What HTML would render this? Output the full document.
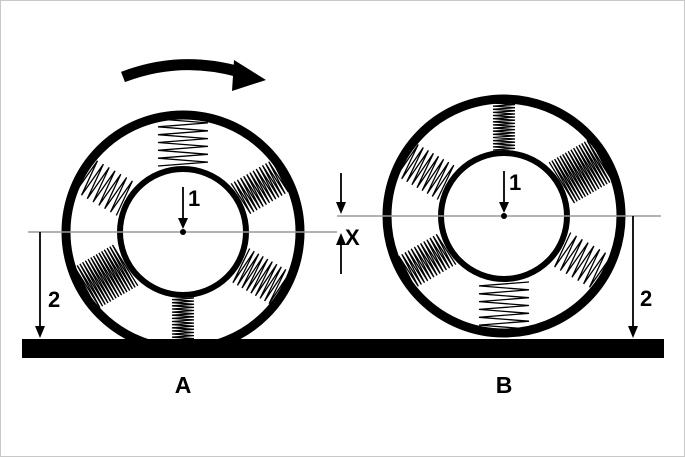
<!DOCTYPE html>
<html><head><meta charset="utf-8"><style>
html,body{margin:0;padding:0;background:#fff}
svg{display:block}
text{font-family:"Liberation Sans",Arial,sans-serif;font-weight:bold;fill:#000}
</style></head><body>
<svg id="s" width="685" height="457" viewBox="0 0 685 457" xmlns="http://www.w3.org/2000/svg">
<rect x="0.5" y="0.5" width="684" height="456" fill="#fff" stroke="#c8c8c8"/>
<defs>
<clipPath id="cA"><rect x="0" y="0" width="685" height="339"/></clipPath>
</defs>
<g id="springs"></g>
<g clip-path="url(#cA)">
<circle cx="183" cy="232" r="117" fill="none" stroke="#000" stroke-width="9"/>
</g>
<circle cx="183" cy="232" r="63" fill="none" stroke="#000" stroke-width="6"/>
<circle cx="504" cy="216" r="117" fill="none" stroke="#000" stroke-width="9"/>
<circle cx="504" cy="216" r="63" fill="none" stroke="#000" stroke-width="6"/>
<rect x="22" y="339" width="642" height="19" fill="#000"/>
<line x1="28" y1="232" x2="337" y2="232" stroke="#999" stroke-width="1.5"/>
<line x1="337" y1="216" x2="661" y2="216" stroke="#999" stroke-width="1.5"/>
<circle cx="183" cy="232" r="3" fill="#000"/>
<circle cx="504" cy="216" r="3" fill="#000"/>
<g stroke="#000" stroke-width="1.8" fill="none">
<line x1="183" y1="187" x2="183" y2="220"/>
<line x1="504" y1="171" x2="504" y2="204"/>
<line x1="40" y1="232" x2="40" y2="328"/>
<line x1="633" y1="216" x2="633" y2="328"/>
<line x1="341" y1="173" x2="341" y2="204"/>
<line x1="341" y1="274" x2="341" y2="243"/>
</g>
<g fill="#000">
<polygon points="178,218 188,218 183,229"/>
<polygon points="499,202 509,202 504,213"/>
<polygon points="35,326 45,326 40,338"/>
<polygon points="628,326 638,326 633,338"/>
<polygon points="336,202 346,202 341,214"/>
<polygon points="336,245 346,245 341,233"/>
</g>
<text x="188" y="206" font-size="22">1</text>
<text x="509" y="190" font-size="22">1</text>
<text x="48" y="307" font-size="22">2</text>
<text x="640" y="306" font-size="22">2</text>
<text x="345" y="245" font-size="22">X</text>
<text x="183" y="393" font-size="23" text-anchor="middle">A</text>
<text x="504" y="393" font-size="23" text-anchor="middle">B</text>
<path d="M123,77 Q180,55 240,72" fill="none" stroke="#000" stroke-width="11"/>
<polygon points="234,60 266,80 232,91" fill="#000"/>
</svg>
<script>
var g=document.getElementById('springs');
function spring(cx,cy,ang,w,n){
 var a=ang*Math.PI/180,dx=Math.cos(a),dy=Math.sin(a),px=-dy,py=dx;
 var r1=66,r2=113,pts=[];
 for(var i=0;i<=n;i++){
  var r=r1+(r2-r1)*i/n,s=(i%2?1:-1)*w/2;
  pts.push((cx+dx*r+px*s).toFixed(1)+','+(cy+dy*r+py*s).toFixed(1));
 }
 var p=document.createElementNS('http://www.w3.org/2000/svg','polyline');
 p.setAttribute('points',pts.join(' '));p.setAttribute('fill','none');
 p.setAttribute('stroke','#000');p.setAttribute('stroke-width','1.3');
 g.appendChild(p);
}
spring(183,232,-90,50,12);
spring(183,232,-30,36,26);
spring(183,232,-150,38,14);
spring(183,232,90,22,30);
spring(183,232,150,48,30);
spring(183,232,30,38,18);
spring(504,216,-90,22,30);
spring(504,216,90,50,12);
spring(504,216,-30,48,30);
spring(504,216,-150,38,16);
spring(504,216,150,36,26);
spring(504,216,30,38,14);
</script>
</body></html>
